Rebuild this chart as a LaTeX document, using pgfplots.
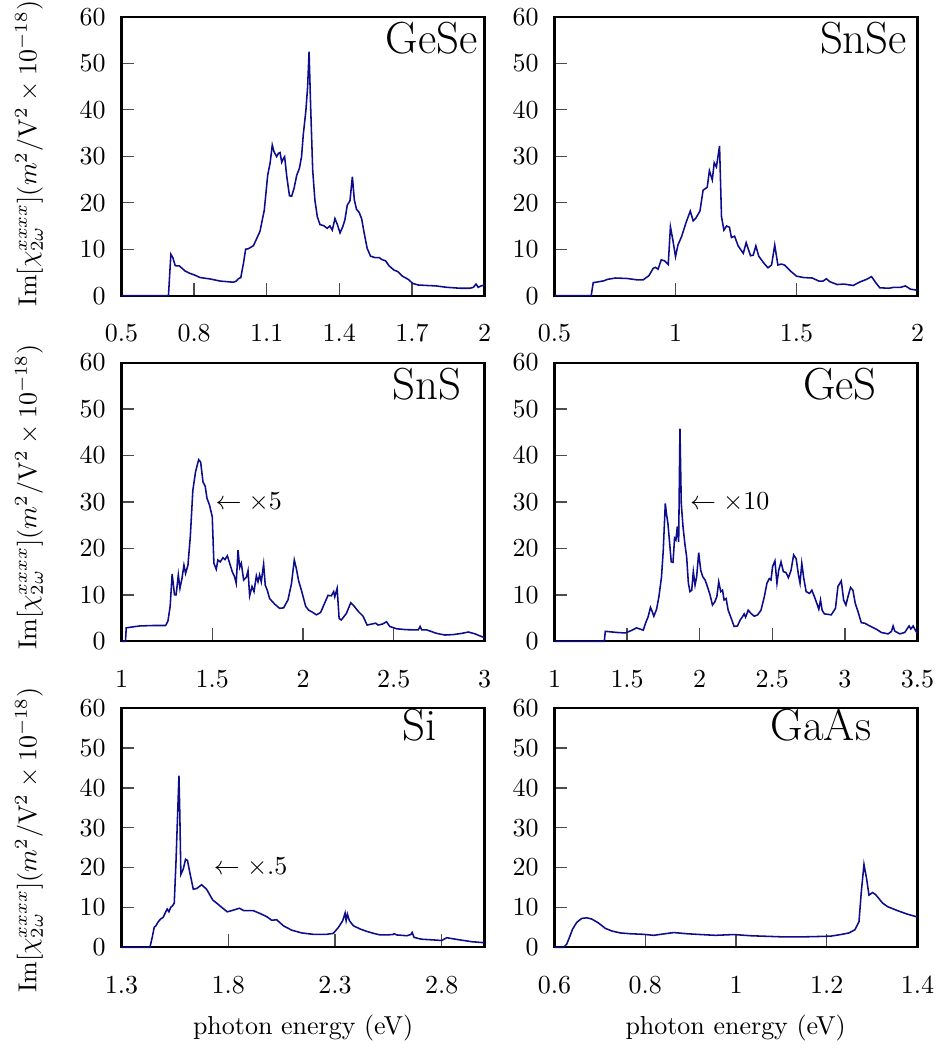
\documentclass[border=0pt]{standalone}
\usepackage{pgfplots}
\pgfplotsset{compat=1.18}
\definecolor{navyc}{rgb}{0.05,0.05,0.55}
\pgfplotsset{
  panel/.style={
    scale only axis, width=139.76pt, anchor=south west,
    ymin=0, ymax=60, ytick={0,10,20,30,40,50,60},
    tick pos=left, tick align=inside,
    major tick length=5pt,
    every tick/.style={black!70, line width=0.5pt},
    axis line style={line width=0.8pt},
    xticklabel style={yshift=-7.5pt},
    yticklabel style={xshift=-2.6pt},
    clip=false,
  },
}
\tikzset{
  lab/.style={anchor=base east, inner sep=0pt, font=\LARGE},
  ann/.style={anchor=west, inner sep=0pt},
}
\newcommand{\ylab}{Im$[\chi^{xxxx}_{2\omega}](m^2/\mathrm{V}^2\times10^{-18})$}
\begin{document}
\begin{tikzpicture}
\useasboundingbox (0,0) rectangle (361.13pt,-403.48pt);
% ---------- GeSe
\begin{axis}[panel, at={(46.78pt,-113.84pt)}, height=107.4pt,
  xmin=0.5, xmax=2, xtick={0.5,0.8,1.1,1.4,1.7,2}, xticklabels={0.5,0.8,1.1,1.4,1.7,2}]
\addplot[navyc, line width=0.6pt] coordinates {
(0.5,0)(0.694,0)(0.704,8.9)(0.712,8.2)(0.722,6.45)(0.739,6.4)(0.763,5.3)(0.783,4.8)(0.804,4.4)(0.825,3.9)(0.866,3.6)(0.907,3.15)(0.962,2.9)(0.973,3.1)(0.983,3.65)(0.993,3.9)(1.004,7.0)(1.013,10.0)(1.024,10.1)(1.045,10.75)(1.072,13.8)(1.090,18.4)(1.104,25.9)(1.114,28.5)(1.123,32.4)(1.130,31.0)(1.141,29.9)(1.148,30.6)(1.155,30.8)(1.162,28.7)(1.169,29.5)(1.174,29.9)(1.183,25.6)(1.194,21.5)(1.203,21.4)(1.213,23.1)(1.224,25.9)(1.235,27.4)(1.244,29.9)(1.251,34.6)(1.262,39.9)(1.269,44.9)(1.275,52.5)(1.282,39.9)(1.290,27.0)(1.299,20.6)(1.309,17.0)(1.320,15.3)(1.336,15.05)(1.350,14.5)(1.361,15.0)(1.371,14.1)(1.382,16.6)(1.392,15.3)(1.403,13.5)(1.414,14.8)(1.423,16.3)(1.433,19.5)(1.444,20.4)(1.454,25.6)(1.462,20.6)(1.471,18.6)(1.482,17.9)(1.492,16.6)(1.503,13.4)(1.515,10.2)(1.529,8.5)(1.547,8.2)(1.565,8.2)(1.575,7.8)(1.591,7.5)(1.606,6.4)(1.626,5.5)(1.641,5.2)(1.661,4.2)(1.685,3.5)(1.703,2.65)(1.726,2.3)(1.76,2.2)(1.80,2.1)(1.844,1.8)(1.90,1.6)(1.94,1.6)(1.954,1.8)(1.965,2.5)(1.974,1.8)(1.985,2.1)(2.0,2.3)
};
\node[lab] at (axis cs:1.973,52) {GeSe};
\end{axis}
% ---------- SnSe
\begin{axis}[panel, at={(213.48pt,-113.84pt)}, height=107.4pt,
  xmin=0.5, xmax=2, xtick={0.5,1,1.5,2}, xticklabels={0.5,1,1.5,2}]
\addplot[navyc, line width=0.6pt] coordinates {
(0.5,0)(0.6515,0)(0.66,2.8)(0.683,3.0)(0.704,3.2)(0.718,3.5)(0.752,3.8)(0.800,3.7)(0.842,3.4)(0.866,3.4)(0.890,4.3)(0.908,5.9)(0.917,6.1)(0.928,5.7)(0.941,7.7)(0.955,7.5)(0.970,6.7)(0.979,14.8)(0.989,12.0)(1.000,8.4)(1.010,10.9)(1.025,12.7)(1.044,15.8)(1.061,18.2)(1.073,16.1)(1.083,16.6)(1.101,18.2)(1.114,22.7)(1.131,23.3)(1.140,26.9)(1.152,24.9)(1.160,28.6)(1.169,27.7)(1.182,32.2)(1.190,17.0)(1.200,14.1)(1.211,15.0)(1.223,14.7)(1.231,12.5)(1.244,12.8)(1.259,10.7)(1.280,9.1)(1.292,11.4)(1.310,8.6)(1.321,8.7)(1.332,10.7)(1.344,8.5)(1.365,7.0)(1.382,6.0)(1.397,6.6)(1.410,10.9)(1.423,6.6)(1.437,6.8)(1.450,6.6)(1.475,5.3)(1.500,4.2)(1.530,3.9)(1.565,3.8)(1.592,3.15)(1.610,3.15)(1.623,3.65)(1.638,3.0)(1.668,2.4)(1.696,2.5)(1.734,2.2)(1.764,3.0)(1.789,3.5)(1.810,4.1)(1.826,2.9)(1.844,1.7)(1.882,1.6)(1.902,1.8)(1.930,1.8)(1.950,2.1)(1.971,1.4)(1.996,1.2)(2.0,1.2)
};
\node[lab] at (axis cs:1.959,52) {SnSe};
\end{axis}
% ---------- SnS
\begin{axis}[panel, at={(46.78pt,-246.9pt)}, height=107.3pt,
  xmin=1, xmax=3, xtick={1,1.5,2,2.5,3}, xticklabels={1,1.5,2,2.5,3}]
\addplot[navyc, line width=0.6pt] coordinates {
(1.0,0)(1.022,0)(1.026,2.9)(1.099,3.3)(1.173,3.4)(1.243,3.4)(1.256,4.4)(1.268,7.5)(1.279,14.5)(1.292,10.0)(1.301,10.0)(1.313,14.3)(1.322,11.4)(1.333,13.5)(1.344,16.4)(1.353,14.6)(1.366,16.4)(1.379,22.5)(1.393,32.5)(1.408,36.5)(1.425,39.1)(1.436,38.6)(1.449,34.3)(1.461,33.4)(1.471,30.8)(1.485,29.3)(1.500,26.8)(1.509,16.8)(1.522,15.5)(1.531,17.5)(1.544,17.1)(1.559,18.0)(1.570,17.6)(1.583,18.4)(1.596,16.8)(1.610,15.0)(1.623,13.9)(1.632,12.5)(1.642,19.6)(1.651,15.9)(1.660,16.8)(1.673,13.2)(1.688,13.8)(1.697,15.2)(1.706,9.8)(1.719,11.8)(1.730,10.7)(1.743,14.1)(1.752,12.8)(1.761,14.3)(1.770,12.8)(1.783,16.6)(1.792,12.1)(1.803,11.0)(1.816,9.2)(1.844,8.0)(1.871,7.1)(1.893,7.2)(1.917,8.9)(1.936,12.3)(1.952,17.5)(1.963,15.7)(1.976,13.0)(1.991,11.0)(2.015,7.5)(2.031,6.7)(2.046,6.4)(2.074,5.7)(2.097,6.2)(2.119,8.2)(2.138,9.9)(2.156,9.8)(2.169,10.7)(2.175,9.6)(2.188,11.4)(2.199,4.9)(2.211,4.6)(2.239,6.0)(2.263,8.3)(2.279,7.7)(2.303,6.5)(2.331,5.4)(2.353,3.5)(2.377,3.7)(2.401,3.9)(2.413,3.5)(2.437,3.7)(2.460,4.2)(2.478,3.2)(2.515,2.7)(2.570,2.5)(2.635,2.45)(2.645,3.2)(2.654,2.45)(2.682,2.45)(2.737,1.7)(2.782,1.35)(2.828,1.45)(2.874,1.7)(2.911,2.0)(2.948,1.6)(2.975,1.15)(3.0,0.8)
};
\node[lab] at (axis cs:2.876,52) {SnS};
\node[ann] at (axis cs:1.515,30) {$\leftarrow\times5$};
\end{axis}
% ---------- GeS
\begin{axis}[panel, at={(213.48pt,-246.9pt)}, height=107.3pt,
  xmin=1, xmax=3.5, xtick={1,1.5,2,2.5,3,3.5}, xticklabels={1,1.5,2,2.5,3,3.5}]
\addplot[navyc, line width=0.6pt] coordinates {
(1.0,0)(1.343,0)(1.350,2.15)(1.431,1.9)(1.488,1.8)(1.512,2.1)(1.535,2.4)(1.565,2.9)(1.588,2.65)(1.611,2.4)(1.627,3.9)(1.645,5.3)(1.661,7.3)(1.673,6.4)(1.684,5.4)(1.703,6.9)(1.719,9.6)(1.737,13.9)(1.749,19.6)(1.763,29.7)(1.772,27.2)(1.781,25.4)(1.793,21.1)(1.804,17.1)(1.816,17.0)(1.827,22.2)(1.836,21.8)(1.846,24.7)(1.855,21.4)(1.864,45.8)(1.873,29.7)(1.885,24.7)(1.899,20.7)(1.910,18.2)(1.922,12.5)(1.933,10.7)(1.945,11.0)(1.956,15.0)(1.968,12.1)(1.979,13.9)(1.993,19.1)(2.007,15.3)(2.021,13.9)(2.037,13.2)(2.053,11.8)(2.071,10.0)(2.088,7.8)(2.104,8.5)(2.118,9.6)(2.131,12.8)(2.145,10.7)(2.157,11.0)(2.168,8.9)(2.182,9.2)(2.196,6.7)(2.214,5.2)(2.237,3.2)(2.260,3.3)(2.279,4.6)(2.295,5.3)(2.306,5.9)(2.316,5.2)(2.334,6.7)(2.353,6.0)(2.376,5.4)(2.399,5.7)(2.422,6.7)(2.445,9.6)(2.463,12.5)(2.479,13.5)(2.491,13.2)(2.502,16.1)(2.518,17.3)(2.532,12.5)(2.544,15.3)(2.560,17.1)(2.576,15.0)(2.594,14.8)(2.611,13.7)(2.629,15.3)(2.647,18.6)(2.664,17.8)(2.680,14.3)(2.691,12.5)(2.703,16.8)(2.717,13.5)(2.733,10.7)(2.756,10.3)(2.772,11.0)(2.790,9.6)(2.806,8.2)(2.820,6.9)(2.832,8.9)(2.843,6.7)(2.859,5.9)(2.906,5.7)(2.935,7.1)(2.952,11.8)(2.975,13.0)(2.991,8.9)(3.007,7.8)(3.021,9.6)(3.039,11.6)(3.055,11.0)(3.071,8.2)(3.090,6.4)(3.113,4.0)(3.136,3.9)(3.171,3.3)(3.217,2.6)(3.251,1.9)(3.297,1.6)(3.320,2.1)(3.332,3.3)(3.343,2.2)(3.378,1.6)(3.412,1.9)(3.431,2.8)(3.442,3.3)(3.454,2.65)(3.470,3.3)(3.490,2.1)(3.5,1.8)
};
\node[lab] at (axis cs:3.223,52) {GeS};
\node[ann] at (axis cs:1.93,30) {$\leftarrow\times10$};
\end{axis}
% ---------- Si
\begin{axis}[panel, at={(46.78pt,-364.7pt)}, height=92.0pt,
  xmin=1.3, xmax=3.0, xtick={1.3,1.8,2.3,2.8}, xticklabels={1.3,1.8,2.3,2.8}]
\addplot[navyc, line width=0.6pt] coordinates {
(1.3,0)(1.433,0)(1.444,2.5)(1.453,5.0)(1.461,5.4)(1.472,6.4)(1.483,7.1)(1.495,7.5)(1.506,8.75)(1.514,9.6)(1.522,8.9)(1.530,10.0)(1.539,10.4)(1.547,11.1)(1.555,21.25)(1.563,33.75)(1.569,43.1)(1.573,33.75)(1.578,18.3)(1.589,19.6)(1.600,22.1)(1.609,21.8)(1.620,18.75)(1.636,14.6)(1.652,14.75)(1.675,15.7)(1.698,14.6)(1.727,11.9)(1.761,10.4)(1.795,8.9)(1.816,9.2)(1.852,9.8)(1.873,9.2)(1.917,9.2)(1.948,8.5)(1.980,7.7)(2.003,6.8)(2.027,6.9)(2.058,5.4)(2.097,4.3)(2.144,3.6)(2.198,3.25)(2.261,3.25)(2.292,3.5)(2.316,5.0)(2.336,6.7)(2.347,8.6)(2.352,6.7)(2.358,8.3)(2.367,6.7)(2.386,5.4)(2.417,4.6)(2.448,4.0)(2.480,3.5)(2.511,3.1)(2.542,3.1)(2.570,3.2)(2.577,3.4)(2.589,3.1)(2.636,2.9)(2.655,3.2)(2.661,3.75)(2.670,2.5)(2.698,2.1)(2.713,2.0)(2.760,1.85)(2.799,1.7)(2.823,2.4)(2.838,2.26)(2.885,1.85)(2.940,1.4)(2.994,1.17)(3.0,1.15)
};
\node[lab] at (axis cs:2.778,52) {Si};
\node[ann] at (axis cs:1.73,20) {$\leftarrow\times.5$};
\end{axis}
% ---------- GaAs
\begin{axis}[panel, at={(213.48pt,-364.7pt)}, height=92.0pt,
  xmin=0.6, xmax=1.4, xtick={0.6,0.8,1,1.2,1.4}, xticklabels={0.6,0.8,1,1.2,1.4}]
\addplot[navyc, line width=0.6pt] coordinates {
(0.6,0)(0.62,0)(0.627,0.8)(0.633,2.5)(0.640,4.6)(0.649,6.25)(0.660,7.25)(0.671,7.4)(0.682,7.1)(0.697,6.1)(0.712,4.75)(0.726,4.1)(0.745,3.6)(0.767,3.4)(0.796,3.25)(0.819,3.0)(0.837,3.3)(0.863,3.7)(0.892,3.4)(0.922,3.2)(0.955,3.0)(0.995,3.2)(1.032,2.9)(1.069,2.75)(1.106,2.6)(1.142,2.6)(1.179,2.7)(1.209,2.8)(1.231,3.2)(1.249,3.6)(1.262,4.4)(1.271,6.4)(1.276,13.75)(1.282,20.8)(1.288,17.1)(1.293,13.1)(1.301,13.75)(1.308,13.2)(1.323,11.1)(1.334,10.2)(1.356,9.2)(1.378,8.3)(1.4,7.6)
};
\node[lab] at (axis cs:1.299,52) {GaAs};
\end{axis}
% ---------- labels
\node[rotate=90] at (11.2pt,-59.1pt) {\ylab};
\node[rotate=90] at (11.2pt,-191.3pt) {\ylab};
\node[rotate=90] at (11.2pt,-323.4pt) {\ylab};
\node at (116.7pt,-395.8pt) {photon energy (eV)};
\node at (283.2pt,-395.8pt) {photon energy (eV)};
\end{tikzpicture}
\end{document}
